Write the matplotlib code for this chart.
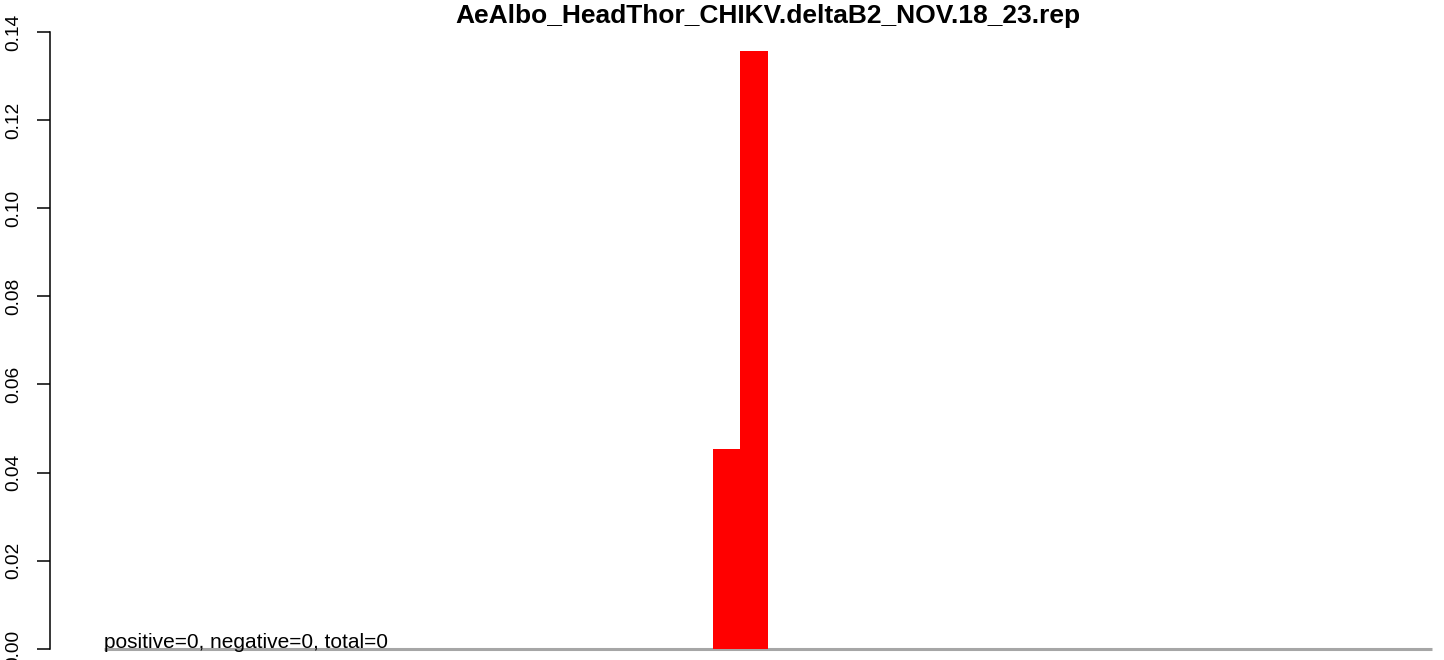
import matplotlib
matplotlib.use("Agg")
import matplotlib.pyplot as plt
import numpy as np

title = "AeAlbo_HeadThor_CHIKV.deltaB2_NOV.18_23.rep"
n_bins = 48
nonzero_bins = [22, 23]
nonzero_vals = [0.0454, 0.1357]
yticks = [0.00, 0.02, 0.04, 0.06, 0.08, 0.10, 0.12, 0.14]
ytick_labels = ["0.00", "0.02", "0.04", "0.06", "0.08", "0.10", "0.12", "0.14"]
note = "positive=0, negative=0, total=0"

values = np.zeros(n_bins)
for b, v in zip(nonzero_bins, nonzero_vals):
    values[b] = v

plt.rcParams['font.family'] = ['Liberation Sans', 'DejaVu Sans']

W, H = 1444, 660
dpi = 100
fig = plt.figure(figsize=(W / dpi, H / dpi), dpi=dpi)

# axes in pixel geometry
ax_left, ax_right = 50, 1440
ax_top, ax_bottom = 25, 655
ax = fig.add_axes([ax_left / W, (H - ax_bottom) / H,
                   (ax_right - ax_left) / W, (ax_bottom - ax_top) / H])

px_per_unit_y = 88.1 / 0.02
y0_px = 648.8
ax.set_ylim(-(ax_bottom - y0_px) / px_per_unit_y, (y0_px - ax_top) / px_per_unit_y)
bin_px = (1432 - 104) / n_bins
x0_px = 104
ax.set_xlim(-(x0_px - ax_left) / bin_px, n_bins + (ax_right - 1432) / bin_px)

x = np.arange(n_bins)
mask = values > 0
ax.bar(x[mask], values[mask], width=1.0, align='edge', color='#FF0000',
       edgecolor='none', linewidth=0, zorder=2)
ax.hlines(0, 0, n_bins, color='#A6A6A6', linewidth=2.2, zorder=1)

for s in ['top', 'right', 'bottom']:
    ax.spines[s].set_visible(False)
ax.spines['left'].set_bounds(0, 0.14)
ax.spines['left'].set_linewidth(1.1)
ax.set_xticks([])
ax.set_yticks(yticks)
ax.set_yticklabels(ytick_labels, rotation=90, va='center', fontsize=13.8)
ax.tick_params(axis='y', length=9.3, width=1.1, pad=11)

ax.text(0, 0.0001, note, fontsize=15, ha='left', va='baseline', zorder=3)

fig.text(768 / W, 1 - 23 / H, title, ha='center', va='baseline',
         fontsize=19, fontweight='bold')

fig.savefig("out.png", dpi=dpi)
